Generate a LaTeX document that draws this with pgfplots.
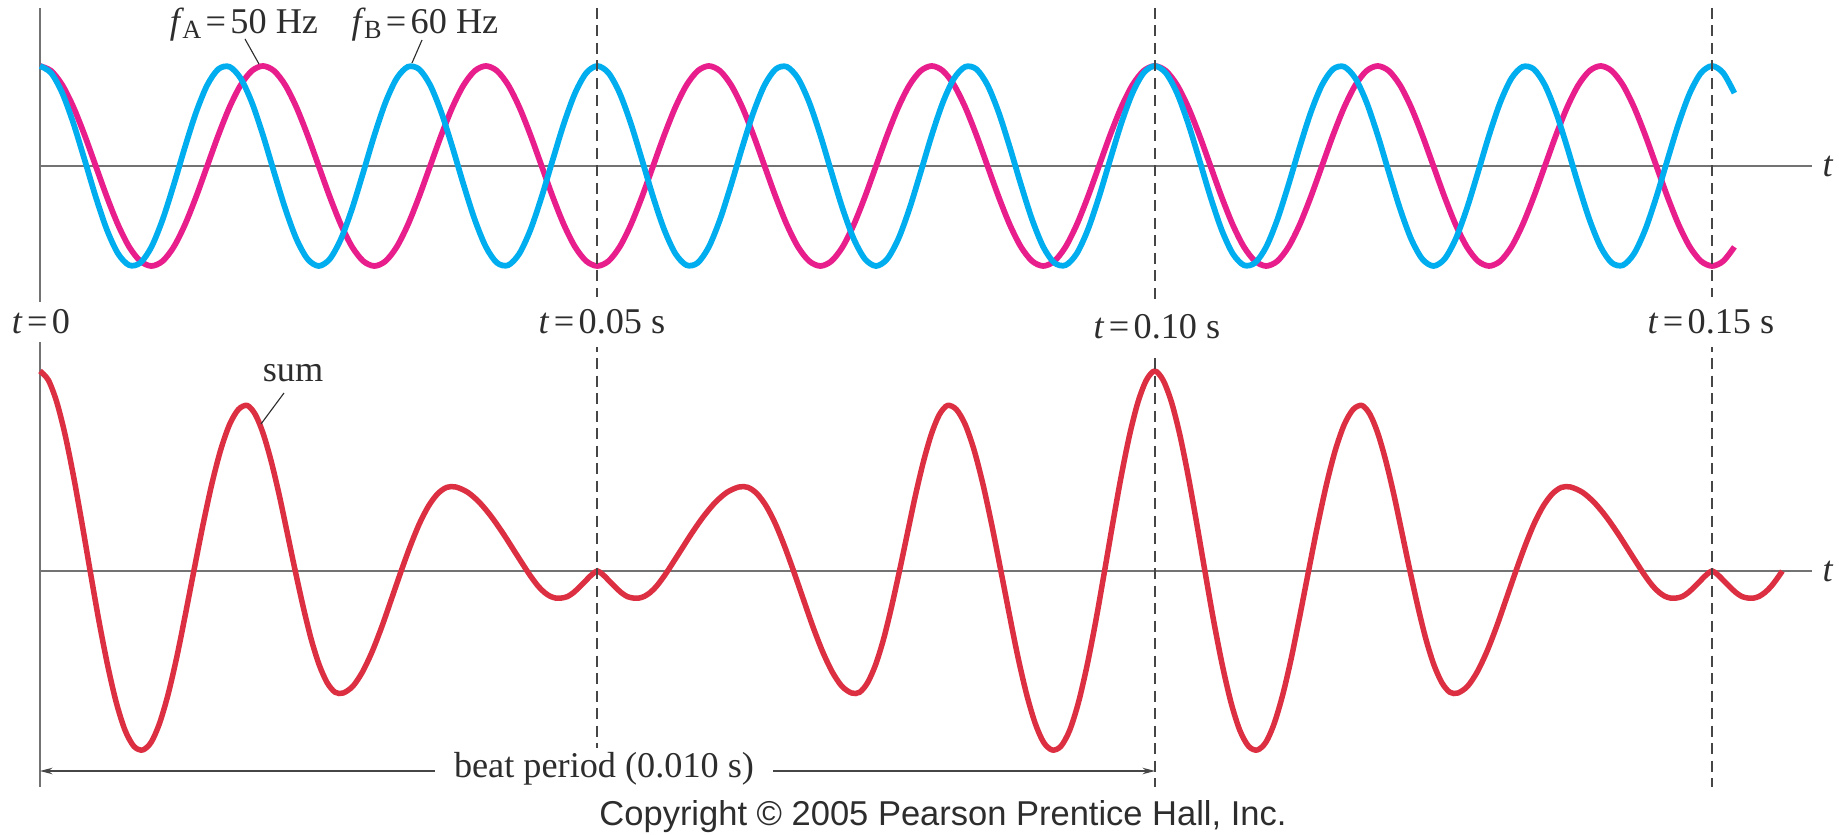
\documentclass[border=0pt]{standalone}
\usepackage{fontspec}
\setmainfont{Liberation Serif}
\newfontfamily\copyfont{Liberation Sans}
\usepackage{pgfplots}
\pgfplotsset{compat=1.18}
\usepackage{pgfplotstable}
\usetikzlibrary{arrows.meta}

\definecolor{cyanw}{RGB}{0,174,239}
\definecolor{magw}{RGB}{232,30,140}
\definecolor{sumw}{RGB}{220,48,66}
\definecolor{axgray}{RGB}{115,115,115}
\definecolor{dashgray}{RGB}{70,70,70}
\definecolor{txt}{RGB}{45,45,45}

\newcommand{\lab}{\fontsize{14.5}{17}\selectfont}

% t in ms, a = 50 Hz wave, b = 60 Hz wave
\pgfplotstableread[row sep=\\]{
t a b\\
0 1 1\\ 1 0.9511 0.9298\\ 2 0.8090 0.7290\\ 3 0.5878 0.4258\\ 4 0.3090 0.0628\\
5 0 -0.3090\\ 6 -0.3090 -0.6374\\ 7 -0.5878 -0.8763\\ 8 -0.8090 -0.9921\\ 9 -0.9511 -0.9686\\
10 -1 -0.8090\\ 11 -0.9511 -0.5358\\ 12 -0.8090 -0.1874\\ 13 -0.5878 0.1874\\ 14 -0.3090 0.5358\\
15 0 0.8090\\ 16 0.3090 0.9686\\ 17 0.5878 0.9921\\ 18 0.8090 0.8763\\ 19 0.9511 0.6374\\
20 1 0.3090\\ 21 0.9511 -0.0628\\ 22 0.8090 -0.4258\\ 23 0.5878 -0.7290\\ 24 0.3090 -0.9298\\
25 0 -1\\ 26 -0.3090 -0.9298\\ 27 -0.5878 -0.7290\\ 28 -0.8090 -0.4258\\ 29 -0.9511 -0.0628\\
30 -1 0.3090\\ 31 -0.9511 0.6374\\ 32 -0.8090 0.8763\\ 33 -0.5878 0.9921\\ 34 -0.3090 0.9686\\
35 0 0.8090\\ 36 0.3090 0.5358\\ 37 0.5878 0.1874\\ 38 0.8090 -0.1874\\ 39 0.9511 -0.5358\\
40 1 -0.8090\\ 41 0.9511 -0.9686\\ 42 0.8090 -0.9921\\ 43 0.5878 -0.8763\\ 44 0.3090 -0.6374\\
45 0 -0.3090\\ 46 -0.3090 0.0628\\ 47 -0.5878 0.4258\\ 48 -0.8090 0.7290\\ 49 -0.9511 0.9298\\
50 -1 1\\ 51 -0.9511 0.9298\\ 52 -0.8090 0.7290\\ 53 -0.5878 0.4258\\ 54 -0.3090 0.0628\\
55 0 -0.3090\\ 56 0.3090 -0.6374\\ 57 0.5878 -0.8763\\ 58 0.8090 -0.9921\\ 59 0.9511 -0.9686\\
60 1 -0.8090\\ 61 0.9511 -0.5358\\ 62 0.8090 -0.1874\\ 63 0.5878 0.1874\\ 64 0.3090 0.5358\\
65 0 0.8090\\ 66 -0.3090 0.9686\\ 67 -0.5878 0.9921\\ 68 -0.8090 0.8763\\ 69 -0.9511 0.6374\\
70 -1 0.3090\\ 71 -0.9511 -0.0628\\ 72 -0.8090 -0.4258\\ 73 -0.5878 -0.7290\\ 74 -0.3090 -0.9298\\
75 0 -1\\ 76 0.3090 -0.9298\\ 77 0.5878 -0.7290\\ 78 0.8090 -0.4258\\ 79 0.9511 -0.0628\\
80 1 0.3090\\ 81 0.9511 0.6374\\ 82 0.8090 0.8763\\ 83 0.5878 0.9921\\ 84 0.3090 0.9686\\
85 0 0.8090\\ 86 -0.3090 0.5358\\ 87 -0.5878 0.1874\\ 88 -0.8090 -0.1874\\ 89 -0.9511 -0.5358\\
90 -1 -0.8090\\ 91 -0.9511 -0.9686\\ 92 -0.8090 -0.9921\\ 93 -0.5878 -0.8763\\ 94 -0.3090 -0.6374\\
95 0 -0.3090\\ 96 0.3090 0.0628\\ 97 0.5878 0.4258\\ 98 0.8090 0.7290\\ 99 0.9511 0.9298\\
100 1 1\\ 101 0.9511 0.9298\\ 102 0.8090 0.7290\\ 103 0.5878 0.4258\\ 104 0.3090 0.0628\\
105 0 -0.3090\\ 106 -0.3090 -0.6374\\ 107 -0.5878 -0.8763\\ 108 -0.8090 -0.9921\\ 109 -0.9511 -0.9686\\
110 -1 -0.8090\\ 111 -0.9511 -0.5358\\ 112 -0.8090 -0.1874\\ 113 -0.5878 0.1874\\ 114 -0.3090 0.5358\\
115 0 0.8090\\ 116 0.3090 0.9686\\ 117 0.5878 0.9921\\ 118 0.8090 0.8763\\ 119 0.9511 0.6374\\
120 1 0.3090\\ 121 0.9511 -0.0628\\ 122 0.8090 -0.4258\\ 123 0.5878 -0.7290\\ 124 0.3090 -0.9298\\
125 0 -1\\ 126 -0.3090 -0.9298\\ 127 -0.5878 -0.7290\\ 128 -0.8090 -0.4258\\ 129 -0.9511 -0.0628\\
130 -1 0.3090\\ 131 -0.9511 0.6374\\ 132 -0.8090 0.8763\\ 133 -0.5878 0.9921\\ 134 -0.3090 0.9686\\
135 0 0.8090\\ 136 0.3090 0.5358\\ 137 0.5878 0.1874\\ 138 0.8090 -0.1874\\ 139 0.9511 -0.5358\\
140 1 -0.8090\\ 141 0.9511 -0.9686\\ 142 0.8090 -0.9921\\ 143 0.5878 -0.8763\\ 144 0.3090 -0.6374\\
145 0 -0.3090\\ 146 -0.3090 0.0628\\ 147 -0.5878 0.4258\\ 148 -0.8090 0.7290\\ 149 -0.9511 0.9298\\
150 -1 1\\ 151 -0.9511 0.9298\\ 152 -0.8090 0.7290\\
}\waves

% sum curve, t in ms
\pgfplotstableread[row sep=\\]{
t s\\
0 2\\ 0.75 1.909\\ 1.5 1.690\\ 2.25 1.363\\ 3.0 0.952\\ 3.75 0.487\\ 4.5 0\\
5.28 -0.495\\ 6.07 -0.945\\ 6.85 -1.318\\ 7.63 -1.593\\ 8.42 -1.753\\ 9.2 -1.79\\
9.97 -1.713\\ 10.73 -1.521\\ 11.5 -1.230\\ 12.27 -0.861\\ 13.03 -0.441\\ 13.8 0\\
14.6 0.451\\ 15.4 0.863\\ 16.2 1.208\\ 17.0 1.464\\ 17.8 1.616\\ 18.6 1.655\\
19.32 1.564\\ 20.03 1.371\\ 20.75 1.093\\ 21.47 0.755\\ 22.18 0.381\\ 22.9 0\\
23.62 -0.363\\ 24.33 -0.683\\ 25.05 -0.940\\ 25.77 -1.119\\ 26.48 -1.213\\ 27.2 -1.22\\
28.07 -1.152\\ 28.93 -1.009\\ 29.8 -0.805\\ 30.67 -0.555\\ 31.53 -0.280\\ 32.4 0\\
33.22 0.251\\ 34.03 0.472\\ 34.85 0.649\\ 35.67 0.772\\ 36.48 0.836\\ 37.3 0.84\\
38.37 0.787\\ 39.43 0.685\\ 40.5 0.542\\ 41.57 0.371\\ 42.63 0.186\\ 43.7 0\\
44.22 -0.084\\ 44.73 -0.157\\ 45.25 -0.214\\ 45.77 -0.253\\ 46.28 -0.271\\ 46.8 -0.27\\
47.33 -0.255\\ 47.87 -0.215\\ 48.4 -0.16\\ 48.93 -0.10\\ 49.47 -0.04\\ 50 0\\
50.53 -0.04\\ 51.07 -0.10\\ 51.6 -0.16\\ 52.13 -0.215\\ 52.67 -0.255\\ 53.2 -0.27\\
53.72 -0.271\\ 54.23 -0.253\\ 54.75 -0.214\\ 55.27 -0.157\\ 55.78 -0.084\\ 56.3 0\\
57.37 0.186\\ 58.43 0.371\\ 59.5 0.542\\ 60.57 0.685\\ 61.63 0.787\\ 62.7 0.84\\
63.52 0.836\\ 64.33 0.772\\ 65.15 0.649\\ 65.97 0.472\\ 66.78 0.251\\ 67.6 0\\
68.47 -0.280\\ 69.33 -0.555\\ 70.2 -0.805\\ 71.07 -1.009\\ 71.93 -1.152\\ 72.8 -1.22\\
73.52 -1.213\\ 74.23 -1.119\\ 74.95 -0.940\\ 75.67 -0.683\\ 76.38 -0.363\\ 77.1 0\\
77.82 0.381\\ 78.53 0.755\\ 79.25 1.093\\ 79.97 1.371\\ 80.68 1.564\\ 81.4 1.655\\
82.2 1.616\\ 83.0 1.464\\ 83.8 1.208\\ 84.6 0.863\\ 85.4 0.451\\ 86.2 0\\
86.97 -0.441\\ 87.73 -0.861\\ 88.5 -1.230\\ 89.27 -1.521\\ 90.03 -1.713\\ 90.8 -1.79\\
91.58 -1.753\\ 92.37 -1.593\\ 93.15 -1.318\\ 93.93 -0.945\\ 94.72 -0.495\\ 95.5 0\\
96.25 0.487\\ 97.0 0.952\\ 97.75 1.363\\ 98.5 1.690\\ 99.25 1.909\\ 100 2\\
100.75 1.909\\ 101.5 1.690\\ 102.25 1.363\\ 103.0 0.952\\ 103.75 0.487\\ 104.5 0\\
105.28 -0.495\\ 106.07 -0.945\\ 106.85 -1.318\\ 107.63 -1.593\\ 108.42 -1.753\\ 109.2 -1.79\\
109.97 -1.713\\ 110.73 -1.521\\ 111.5 -1.230\\ 112.27 -0.861\\ 113.03 -0.441\\ 113.8 0\\
114.6 0.451\\ 115.4 0.863\\ 116.2 1.208\\ 117.0 1.464\\ 117.8 1.616\\ 118.6 1.655\\
119.32 1.564\\ 120.03 1.371\\ 120.75 1.093\\ 121.47 0.755\\ 122.18 0.381\\ 122.9 0\\
123.62 -0.363\\ 124.33 -0.683\\ 125.05 -0.940\\ 125.77 -1.119\\ 126.48 -1.213\\ 127.2 -1.22\\
128.07 -1.152\\ 128.93 -1.009\\ 129.8 -0.805\\ 130.67 -0.555\\ 131.53 -0.280\\ 132.4 0\\
133.22 0.251\\ 134.03 0.472\\ 134.85 0.649\\ 135.67 0.772\\ 136.48 0.836\\ 137.3 0.84\\
138.37 0.787\\ 139.43 0.685\\ 140.5 0.542\\ 141.57 0.371\\ 142.63 0.186\\ 143.7 0\\
144.22 -0.084\\ 144.73 -0.157\\ 145.25 -0.214\\ 145.77 -0.253\\ 146.28 -0.271\\ 146.8 -0.27\\
147.33 -0.255\\ 147.87 -0.215\\ 148.4 -0.16\\ 148.93 -0.10\\ 149.47 -0.04\\ 150 0\\
150.53 -0.04\\ 151.07 -0.10\\ 151.6 -0.16\\ 152.13 -0.215\\ 152.67 -0.255\\ 153.2 -0.27\\
153.72 -0.271\\ 154.23 -0.253\\ 154.75 -0.214\\ 155.27 -0.157\\ 155.78 -0.084\\ 156.3 0\\
}\beat

\pgfplotsset{beatax/.style={
  scale only axis, hide axis, clip=false,
  anchor=south west, width=708.96pt,
  xmin=0, xmax=159,
}}

\begin{document}
\begin{tikzpicture}
\useasboundingbox (0,0) rectangle (735.6pt,334pt);

% axis lines (full-size pixel units, y up)
\begin{scope}[x=0.4pt,y=0.4pt]
  \draw[axgray, line width=0.8pt] (40,827) -- (40,48);
  \draw[axgray, line width=0.75pt] (40,669) -- (1812,669);
  \draw[axgray, line width=0.75pt] (40,264) -- (1812,264);
\end{scope}

\begin{axis}[beatax, at={(16pt,227.6pt)}, height=80pt, ymin=-1, ymax=1]
  \addplot[magw, line width=2.3pt, smooth] table[x=t, y=a] {\waves};
  \addplot[cyanw, line width=2.3pt, smooth] table[x=t, y=b] {\waves};
\end{axis}

\begin{axis}[beatax, at={(16pt,25.6pt)}, height=160pt, ymin=-2, ymax=2]
  \addplot[sumw, line width=2.2pt, smooth] table[x=t, y=s] {\beat};
\end{axis}

\begin{scope}[x=0.4pt,y=0.4pt, every node/.style={text=txt}]
  \foreach \xx in {597.4,1154.7,1712.1}
    \draw[dashgray, line width=0.85pt, dash pattern=on 4.4pt off 2.6pt] (\xx,827) -- (\xx,48);

  \node[fill=white, inner xsep=1pt, inner ysep=3pt] at (41,513) {\lab\textit{t}\kern0.12em=\kern0.12em0};
  \node[fill=white, inner xsep=1pt, inner ysep=5pt] at (602,513) {\lab\textit{t}\kern0.12em=\kern0.12em0.05 s};
  \node[fill=white, inner xsep=1pt, inner ysep=6pt] at (1157,508) {\lab\textit{t}\kern0.12em=\kern0.12em0.10 s};
  \node[fill=white, inner xsep=1pt, inner ysep=5pt] at (1711,513) {\lab\textit{t}\kern0.12em=\kern0.12em0.15 s};

  \node at (1828,669) {\lab\textit{t}};
  \node at (1828,264) {\lab\textit{t}};

  \node at (244,810) {\lab\textit{f}\kern-0.05em\raisebox{-0.3ex}{\fontsize{10.5}{10}\selectfont A}\kern0.12em=\kern0.12em50 Hz};
  \draw[txt, line width=0.45pt] (245,796) -- (259,771);
  \node at (425,810) {\lab\textit{f}\kern-0.05em\raisebox{-0.3ex}{\fontsize{10.5}{10}\selectfont B}\kern0.12em=\kern0.12em60 Hz};
  \draw[txt, line width=0.45pt] (422,795) -- (412,772);

  \node at (293,462) {\lab sum};
  \draw[txt, line width=0.45pt] (284,442) -- (261,411);

  \draw[dashgray, line width=0.5pt, {Stealth[length=5pt,width=2.6pt]}-{Stealth[length=5pt,width=2.6pt]}] (40,64) -- (1155,64);
  \node[fill=white, inner xsep=7.5pt, inner ysep=2pt] at (604,66) {\lab beat period (0.010 s)};

  \node at (943,18) {\copyfont\fontsize{13.8}{16}\selectfont Copyright \textcopyright{} 2005 Pearson Prentice Hall, Inc.};
\end{scope}
\end{tikzpicture}
\end{document}
